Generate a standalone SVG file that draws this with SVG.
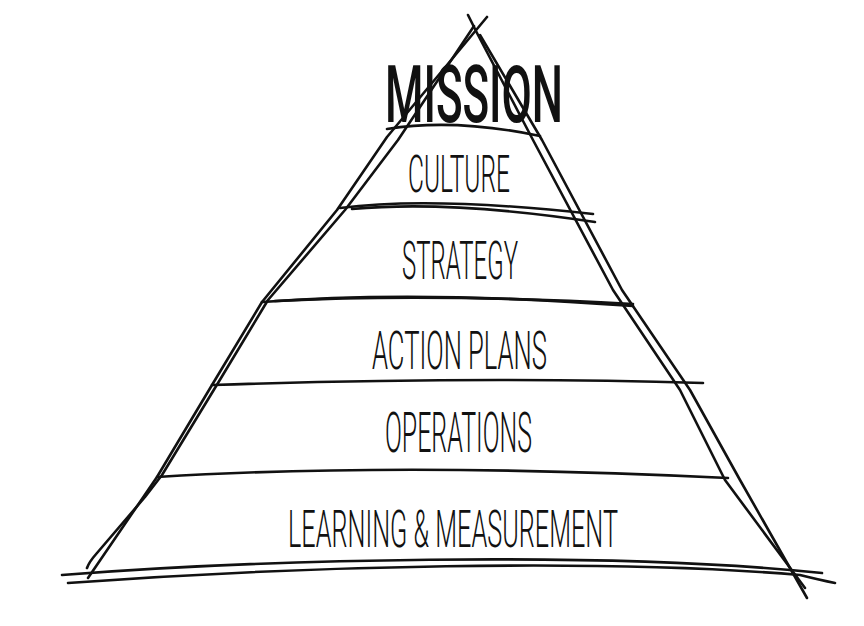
<svg xmlns="http://www.w3.org/2000/svg" width="864" height="626" viewBox="0 0 864 626">
<style>
.ln{fill:none;stroke:#111;stroke-width:2.6;stroke-linecap:round;stroke-linejoin:round}
.t{font-family:"Liberation Sans Narrow","Roboto","Liberation Sans",sans-serif;font-weight:300;fill:#111;text-anchor:start}
.m{font-family:"Liberation Sans Narrow","Roboto","Liberation Sans",sans-serif;font-weight:500;fill:#111}
</style>
<rect width="864" height="626" fill="#fff"/>
<g id="connectors">
<path class="ln" d="M487,17 L387,137 L337,210 L262,302 L212,385 L157,477 L88,578"/>
<path class="ln" d="M474,26 L398,140 L345,210 L268,300 L218,383 L162,475 L145,497 Q110,538 97,553 Q89,562 87,568"/>
<path class="ln" d="M468,15 L477,33 L533,140 L613,290 L680,390 L725,480 L805,588"/>
<path class="ln" d="M480,35 L542,140 L622,290 L690,390 L740,480 L807,598"/>
<path class="ln" d="M387,129 Q455,118 540,136"/>
<path class="ln" d="M340,208 Q430,196 593,214"/>
<path class="ln" d="M352,209 Q450,200 595,222"/>
<path class="ln" d="M262,302 Q420,290 633,306"/>
<path class="ln" d="M275,301 Q430,293 633,304"/>
<path class="ln" d="M212,385 Q480,376 703,383"/>
<path class="ln" d="M157,477 Q400,462 728,478"/>
<path class="ln" d="M62,575 C250,560 600,550 822,573"/>
<path class="ln" d="M68,583 C300,566 600,558 800,575 Q820,580 835,583"/>
</g>
<g id="mission"><text class="m" x="385" y="122" font-size="80" textLength="178" lengthAdjust="spacingAndGlyphs">MISSION</text></g>
<g id="culture"><text class="t" x="408" y="192" font-size="52" textLength="102" lengthAdjust="spacingAndGlyphs">CULTURE</text></g>
<g id="strategy"><text class="t" x="402" y="279" font-size="53" textLength="116" lengthAdjust="spacingAndGlyphs">STRATEGY</text></g>
<g id="action-plans"><text class="t" x="372" y="369" font-size="54" textLength="175" lengthAdjust="spacingAndGlyphs">ACTION PLANS</text></g>
<g id="operations"><text class="t" x="385" y="452" font-size="55" textLength="147" lengthAdjust="spacingAndGlyphs">OPERATIONS</text></g>
<g id="learning"><text class="t" x="288" y="547" font-size="52" textLength="330" lengthAdjust="spacingAndGlyphs">LEARNING &amp; MEASUREMENT</text></g>
</svg>
